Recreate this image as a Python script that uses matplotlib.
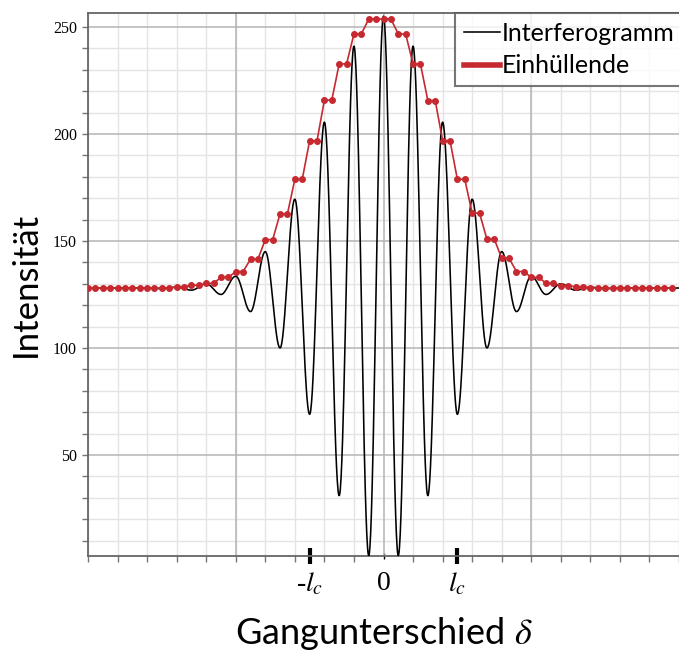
import numpy as np
import matplotlib.pyplot as plt
from matplotlib.ticker import MultipleLocator

plt.rcParams['font.family'] = ['Lato', 'DejaVu Sans']
plt.rcParams['mathtext.fontset'] = 'stix'

ifg_x = list(range(-20, 21))
ifg_y = [128, 128, 128, 128, 128.1, 127.7, 128.4, 127, 130, 125,
         133.5, 117, 145, 100, 169.5, 69, 205.5, 31, 241, 3,
         255,
         3, 241, 31, 205.5, 69, 169.5, 100, 145, 117, 133.5,
         125, 130, 127, 128.4, 127.7, 128.1, 128, 128, 128, 128]

# Einhuellende: Stufenwerte, jeweils zwei Punkte pro Stufe (Start x = -20 ... 19)
env_levels = [128, 128, 128, 128, 128, 128,
              128.6, 129.3, 130.2, 133, 135.7, 141.5, 150.6, 162.7,
              178.8, 196.8, 215.8, 232.7, 246.7, 253.7,
              253.7, 246.7, 232.7, 215.6, 196.9, 178.8, 163, 150.8,
              141.9, 135.7, 133, 130.2, 129.1, 128.6,
              128, 128, 128, 128, 128, 128]
env_x = np.arange(-20, 20, 0.5)
env_y = np.repeat(env_levels, 2)

tick_pos = [-5, 0, 5]
tick_lab = ['-$l_c$', '0', '$l_c$']

# glatte Kurve zwischen den Extremwerten (Halbwellen)
xs, ys = [], []
for k in range(len(ifg_x) - 1):
    t = np.linspace(0, 1, 40)
    a, b = ifg_y[k], ifg_y[k + 1]
    xs.append(ifg_x[k] + t)
    ys.append((a + b) / 2 + (a - b) / 2 * np.cos(np.pi * t))
xs = np.concatenate(xs)
ys = np.concatenate(ys)

fig = plt.figure(figsize=(6.79, 6.52), dpi=100)
ax = fig.add_axes([88 / 679, 96 / 652, 591 / 679, 543 / 652])

red = '#c62a30'
ax.plot(xs, ys, color='black', lw=1.15, zorder=3, label='Interferogramm')
ax.plot(env_x, env_y, color=red, lw=1.2, marker='o', ms=4, mec=red, mfc=red,
        zorder=4)
ax.plot([], [], color=red, lw=4, label='Einhüllende')

ax.set_xlim(-20, 20)
ax.set_ylim(2.8, 256.5)

# Gitter
ax.xaxis.set_minor_locator(MultipleLocator(2))
ax.yaxis.set_major_locator(MultipleLocator(50))
ax.yaxis.set_minor_locator(MultipleLocator(10))
ax.grid(which='minor', color='#e4e4e4', lw=1.0, zorder=0)
ax.yaxis.grid(which='major', color='#b4b4b4', lw=1.1, zorder=1)
for xv in [-10, 0, 10]:
    ax.axvline(xv, color='#b4b4b4', lw=1.1, zorder=1)
ax.set_axisbelow(True)

ax.set_xticks(tick_pos)
ax.set_xticklabels(tick_lab, fontsize=20, family='Liberation Serif')
ax.tick_params(axis='x', which='major', direction='inout', length=12, width=3,
               color='black', pad=5)
ax.tick_params(axis='x', which='minor', direction='out', length=4, width=1,
               color='#777777')
ax.xaxis.get_major_ticks()[1].tick1line.set_markersize(4)
ax.xaxis.get_major_ticks()[1].tick1line.set_markeredgewidth(1)
ax.xaxis.get_major_ticks()[1].tick1line.set_color('#777777')
ax.tick_params(axis='y', which='both', direction='out', length=4, width=1,
               color='#777777', labelsize=11.5,
               labelfontfamily='Liberation Serif', pad=4)

for s in ['left', 'bottom', 'top']:
    ax.spines[s].set_color('#666666')
    ax.spines[s].set_linewidth(1.3)
ax.spines['right'].set_visible(False)

ax.set_ylabel('Intensität', fontsize=25, labelpad=8)
ax.set_xlabel('Gangunterschied $\\delta$', fontsize=26, labelpad=12)

leg = ax.legend(loc='upper left', bbox_to_anchor=(0.621, 1.0), fontsize=18,
                frameon=True, fancybox=False, edgecolor='#555555',
                handlelength=1.45, handletextpad=0.08, borderpad=0.35,
                labelspacing=0.38, borderaxespad=0)
leg.get_frame().set_linewidth(1.5)

fig.savefig('out.png', dpi=100)
